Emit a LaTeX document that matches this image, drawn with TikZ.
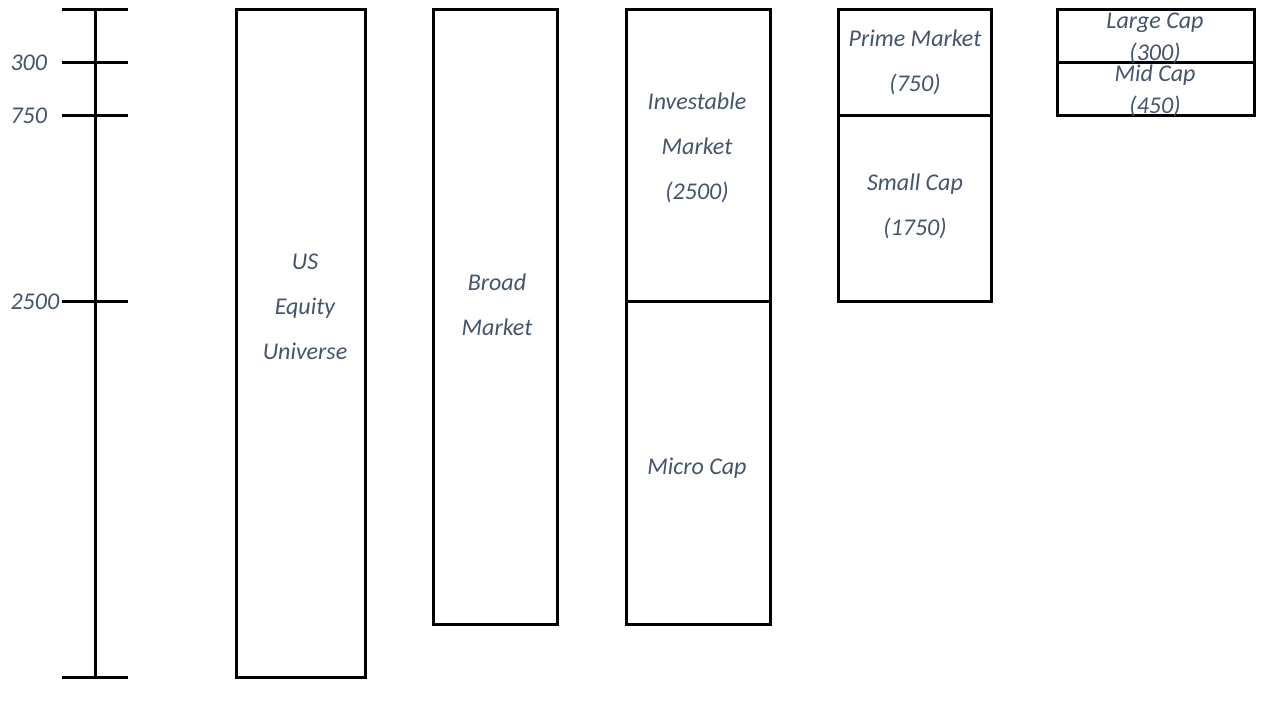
\documentclass[tikz,border=0pt]{standalone}
\usepackage{fontspec}
\setmainfont{Carlito}
\definecolor{txt}{HTML}{44546A}
\begin{document}
\begin{tikzpicture}[x=0.75pt,y=-0.75pt,
  line width=2.25pt,
  lbl/.style={text=txt,align=center,inner sep=0pt,font=\fontsize{18}{33.75}\selectfont\itshape},
  lblsm/.style={text=txt,align=center,inner sep=0pt,font=\fontsize{18}{24}\selectfont\itshape},
  ax/.style={text=txt,anchor=west,inner sep=0pt,font=\fontsize{18}{22}\selectfont\itshape}]
\useasboundingbox (0,0) rectangle (1262,705);
% axis
\draw (95,10) -- (95,677);
\foreach \yy in {10,63,116,302,677}{\draw (62,\yy) -- (128,\yy);}
\node[ax] (l300) at (9,63) {300};
\node[ax] (l750) at (9,116) {750};
\node[ax] (l2500) at (9,302) {2500};
% boxes
\draw (236,10) rectangle (365,677);
\draw (433,10) rectangle (557,624);
\draw (626,10) rectangle (770,624);
\draw (626,302) -- (770,302);
\draw (838,10) rectangle (991,302);
\draw (838,116) -- (991,116);
\draw (1057,10) rectangle (1254,116);
\draw (1057,63) -- (1254,63);
% labels
\node[lbl] (us) at (305,307) {US\\Equity\\Universe};
\node[lbl] (broad) at (497,305) {Broad\\Market};
\node[lbl] (inv) at (697,148) {Investable\\Market\\(2500)};
\node[lbl] (micro) at (697,468) {Micro Cap};
\node[lbl] (prime) at (915,62) {Prime Market\\(750)};
\node[lbl] (small) at (915,206) {Small Cap\\(1750)};
\node[lblsm] (large) at (1155,38) {Large Cap\\(300)};
\node[lblsm] (mid) at (1155,91) {Mid Cap\\(450)};
\end{tikzpicture}
\end{document}
